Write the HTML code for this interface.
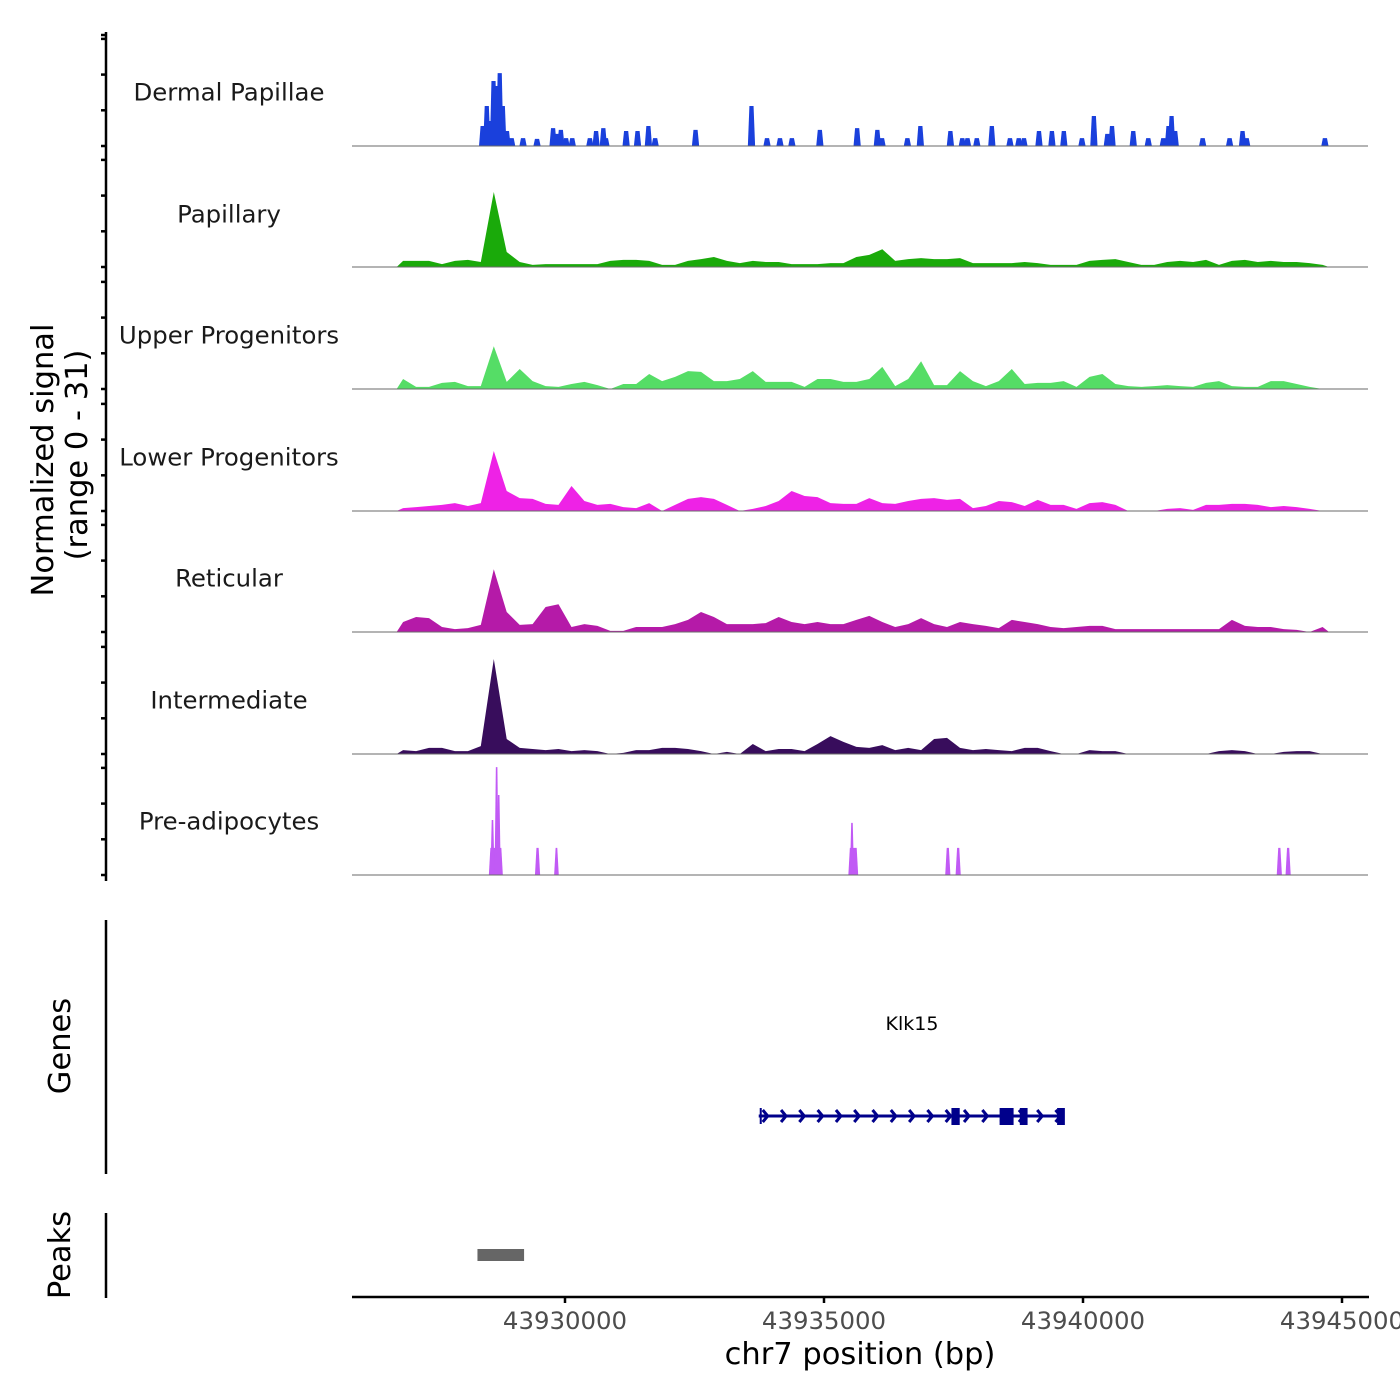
<!DOCTYPE html>
<html><head><meta charset="utf-8"><style>
html,body{margin:0;padding:0;background:#fff;}
svg{display:block;font-family:"DejaVu Sans","Liberation Sans",sans-serif;}
</style></head><body>
<svg id="chart" width="1400" height="1400" viewBox="0 0 1400 1400">
<g id="tracks"></g>
<g id="axes"></g>
<text x="0" y="0" transform="translate(53,460) rotate(-90)" text-anchor="middle" font-size="30.5" fill="#000">Normalized signal</text>
<text x="0" y="0" transform="translate(87,455) rotate(-90)" text-anchor="middle" font-size="30.5" fill="#000">(range 0 - 31)</text>
<text x="0" y="0" transform="translate(70,1046) rotate(-90)" text-anchor="middle" font-size="30.5" fill="#000">Genes</text>
<text x="0" y="0" transform="translate(70,1255) rotate(-90)" text-anchor="middle" font-size="30.5" fill="#000">Peaks</text>
<text x="860" y="1364" text-anchor="middle" font-size="30.5" fill="#000">chr7 position (bp)</text>
</svg>
<script>
// ---- data ----
const trackNames = ["Dermal Papillae","Papillary","Upper Progenitors","Lower Progenitors","Reticular","Intermediate","Pre-adipocytes"];
const trackColors = ["#1a40dc","#1aaa0a","#55dd66","#ee22e6","#b51aa8","#380d5c","#c15af5"];
const xTicks = [43930000,43935000,43940000,43945000];
const xTickLabels = ["43930000","43935000","43940000","43945000"];
const binStartKb = 43926.75;
const binSizeKb = 0.25;
const papillaryVals = [1.7,1.7,1.7,0.8,1.7,2,1.4,21,4.2,1.4,0.6,0.8,0.8,0.8,0.8,0.8,1.7,2,2,1.7,0.6,0.6,1.7,2.2,2.8,1.7,1.1,1.7,1.4,1.4,0.8,0.8,0.8,1.1,1.1,2.8,3.4,5,1.7,2.2,2.5,2.2,2.2,2.5,1.1,1.1,1.1,1.1,1.4,1.1,0.6,0.6,0.6,1.7,2,2.2,1.4,0.6,0.6,1.4,1.7,1.4,2,0.6,1.7,2,1.4,1.7,1.4,1.4,1.1,0.6];
const upperVals = [2.8,0.6,0.6,1.7,2,0.8,0.8,12,2,5.6,2.2,0.8,0.6,1.4,2,1.1,0,1.4,1.4,4.2,2.2,3.4,5,4.8,2.2,2.2,2.8,5,2,2,2,0.6,2.8,2.8,2,2,2.8,6.2,0.8,2.8,7.8,1.1,1.1,5,2.2,0.8,2.2,5.6,1.4,1.7,1.7,2.2,0.6,3.4,4.2,1.4,0.8,0.6,0.8,1.1,0.8,0.6,1.7,2.2,0.8,0.6,0.6,2.2,2.2,1.4,0.6,0];
const lowerVals = [0.8,1.1,1.4,1.7,2.2,1.4,2.2,16.8,5.6,3.6,3.4,2,1.7,7,2.8,1.7,2,1.1,0.8,2.2,0,1.7,3.4,3.9,3.4,1.7,0,0.6,1.4,2.8,5.6,4.2,3.9,2.2,2,2,3.6,2.2,2,2.8,3.4,3.6,3.1,3.4,0.8,1.4,2.8,2.5,1.4,3.1,1.7,1.7,0.6,2.2,2.5,1.7,0,0,0,0.6,0.8,0.3,1.7,1.7,2,2,1.7,1.1,1.4,1.1,0.6,0];
const reticularVals = [2.8,4.2,3.9,1.4,0.8,1.1,2,17.6,5.6,2,2.2,7,7.8,1.4,2.2,1.7,0.3,0.3,1.4,1.4,1.4,2.2,3.4,5.6,4.2,2.2,2.2,2.2,2.5,4.2,2.8,2.2,2.8,2.2,2.2,3.4,4.5,2.8,1.4,2.2,3.9,2.2,1.4,2.8,2.2,1.7,1.1,3.4,2.8,2.2,1.4,1.1,1.4,1.7,1.7,0.8,0.8,0.8,0.8,0.8,0.8,0.8,0.8,0.8,3.4,1.7,1.4,1.4,0.8,0.6,0,1.4];
const intermediateVals = [1.1,0.8,1.7,1.7,0.8,0.8,2.2,26.6,4.2,1.7,1.4,1.1,1.4,0.8,1.1,0.8,0,0.3,1.1,1.1,1.7,1.7,1.4,0.8,0,0.6,0,2.8,0.8,1.4,1.4,0.8,2.8,5,3.4,2,1.7,2.5,1.1,1.7,1.1,4.2,4.5,1.7,1.1,1.4,1.1,0.8,1.7,1.7,0.8,0,0,1.1,0.8,0.8,0,0,0,0,0,0,0,0.8,1.1,0.8,0,0,0.6,0.8,0.8,0];
const dermalPosKb = [43928.41,43928.49,43928.55,43928.62,43928.68,43928.74,43928.80,43928.88,43928.97,43929.19,43929.46,43929.77,43929.84,43929.92,43930.02,43930.14,43930.48,43930.60,43930.74,43930.79,43931.18,43931.40,43931.61,43931.74,43932.52,43933.60,43933.90,43934.15,43934.38,43934.92,43935.64,43936.03,43936.12,43936.61,43936.86,43937.44,43937.67,43937.77,43937.95,43938.24,43938.59,43938.76,43938.86,43939.15,43939.40,43939.63,43939.98,43940.21,43940.47,43940.56,43940.97,43941.26,43941.55,43941.65,43941.71,43941.78,43942.31,43942.83,43943.08,43943.16,43944.67];
const dermalVals = [5.6,11.2,7,18.2,16.8,20.4,11.2,4.2,2.2,2.2,2,5,3.4,4.5,2.2,2.2,2.2,4.2,5,2.2,4.2,4.2,5.6,2.2,4.5,11.2,2.2,2.2,2.2,4.5,5,4.5,2.2,2.2,5.6,4.2,2.2,2.2,2.2,5.6,2.2,2.2,2.2,4.2,4.2,4.2,2.2,8.4,3.4,5.6,4.2,2.2,2.2,5.6,8.4,4.2,2.2,2.2,4.2,2.2,2.2];
const preStartKb = [43928.53,43929.42,43929.79,43935.47,43937.34,43937.54,43943.74,43943.91];
const preEndKb = [43928.80,43929.52,43929.88,43935.66,43937.44,43937.64,43943.84,43944.01];
const preVals = [7.6,7.6,7.6,7.6,7.6,7.6,7.6,7.6];
const preSpikePosKb = [43928.60,43928.68,43928.72,43935.54];
const preSpikeVals = [15.4,30.2,22.4,14.6];
const geneName = "Klk15";
const geneStartKb = 43933.74, geneEndKb = 43939.63;
const exonStartKb = [43937.46,43938.39,43938.78,43939.50];
const exonEndKb = [43937.62,43938.66,43938.93,43939.65];
const peakStartKb = [43928.31];
const peakEndKb = [43929.21];

// ---- scales ----
const NS='http://www.w3.org/2000/svg';
const baselines=[146,267,389,511,632,754,875];
const labelY=[92,214,335,457,578,700,821];
const PX_PER_UNIT=3.57;
function xKb(kb){return 565+(kb-43930)*51.8;}
function xBp(bp){return xKb(bp/1000);}
function yv(t,v){return baselines[t]-v*PX_PER_UNIT;}
function mk(tag,attrs,parent){const e=document.createElementNS(NS,tag);for(const k in attrs)e.setAttribute(k,attrs[k]);parent.appendChild(e);return e;}
const G=document.getElementById('tracks');
const A=document.getElementById('axes');

function areaPath(t,vals){
  let d='M'+xKb(binStartKb)+','+baselines[t];
  vals.forEach((v,i)=>{d+=' L'+xKb(binStartKb+(i+0.5)*binSizeKb).toFixed(1)+','+yv(t,v).toFixed(1);});
  d+=' L'+xKb(binStartKb+vals.length*binSizeKb)+','+baselines[t]+' Z';
  return d;
}

trackNames.forEach((n,t)=>{
  const tx=mk('text',{x:229,y:labelY[t]+8.5,'text-anchor':'middle','font-size':24.4,fill:'#1a1a1a'},G);
  tx.textContent=n;
  
  
});

dermalPosKb.forEach((p,i)=>{
  const b=baselines[0],top=yv(0,dermalVals[i]);
  const pg=mk('polygon',{points:`${xKb(p-0.07)},${b} ${xKb(p-0.04)},${top} ${xKb(p+0.04)},${top} ${xKb(p+0.07)},${b}`,fill:trackColors[0]},G);
  
  
});
[[1,papillaryVals],[2,upperVals],[3,lowerVals],[4,reticularVals],[5,intermediateVals]].forEach(([t,vals])=>{
  const p=mk('path',{d:areaPath(t,vals),fill:trackColors[t]},G);
  
  
});
preStartKb.forEach((s,i)=>{
  const b=baselines[6],top=yv(6,preVals[i]);
  const pg=mk('polygon',{points:`${xKb(s)},${b} ${xKb(s)+1.5},${top} ${xKb(preEndKb[i])-1.5},${top} ${xKb(preEndKb[i])},${b}`,fill:trackColors[6]},G);
  
  
});
preSpikePosKb.forEach((p,i)=>{
  const b=baselines[6],top=yv(6,preSpikeVals[i]);
  const pg=mk('polygon',{points:`${xKb(p-0.04)},${b} ${xKb(p-0.015)},${top} ${xKb(p+0.015)},${top} ${xKb(p+0.04)},${b}`,fill:trackColors[6]},G);
  
  
});
baselines.forEach((b,t)=>{
  const l=mk('line',{x1:352,x2:1368,y1:b,y2:b,stroke:'#6a6a6a','stroke-width':1},G);
  
  
});

const la=mk('line',{x1:106,x2:106,y1:32,y2:881,stroke:'#000','stroke-width':2.5},A);


mk('line',{x1:101,x2:106,y1:35,y2:35,stroke:'#000','stroke-width':2.5},A);
baselines.forEach((b,t)=>{
  [0,10,20,30].forEach(v=>{
    const tk=mk('line',{x1:101,x2:106,y1:yv(t,v),y2:yv(t,v),stroke:'#000','stroke-width':2.5},A);
    
    
  });
});
const ga=mk('line',{x1:106,x2:106,y1:920,y2:1174,stroke:'#000','stroke-width':2.5},A);


const pa=mk('line',{x1:106,x2:106,y1:1213,y2:1298,stroke:'#000','stroke-width':2.5},A);



const gc='#00008b';
const gl=mk('line',{x1:xKb(geneStartKb),x2:xKb(geneEndKb),y1:1116,y2:1116,stroke:gc,'stroke-width':3},A);


mk('line',{x1:xKb(geneStartKb)+2,x2:xKb(geneStartKb)+2,y1:1108,y2:1124,stroke:gc,'stroke-width':2},A);
for(let x=xKb(geneStartKb)+4;x<xKb(geneEndKb)-4;x+=18.3){
  const ar=mk('polyline',{points:`${x},1110 ${x+5},1116 ${x},1122`,fill:'none',stroke:gc,'stroke-width':3},A);
  
  
}
exonStartKb.forEach((s,i)=>{
  const r=mk('rect',{x:xKb(s),y:1108,width:xKb(exonEndKb[i])-xKb(s),height:17,fill:gc},A);
  
  
});
const gt=mk('text',{x:912,y:1030,'text-anchor':'middle','font-size':19,fill:'#000'},A);
gt.textContent=geneName;



peakStartKb.forEach((s,i)=>{
  const r=mk('rect',{x:xKb(s),y:1249,width:xKb(peakEndKb[i])-xKb(s),height:12,fill:'#666'},A);
  
  
});

const xa=mk('line',{x1:352,x2:1369,y1:1297,y2:1297,stroke:'#000','stroke-width':2.5},A);


xTicks.forEach((bp,i)=>{
  const x=xBp(bp);
  const tk=mk('line',{x1:x,x2:x,y1:1297,y2:1303,stroke:'#000','stroke-width':2.5},A);
  
  
  const lb=mk('text',{x:x,y:1329,'text-anchor':'middle','font-size':24.4,fill:'#4d4d4d'},A);
  lb.textContent=xTickLabels[i];
  
  
});
</script>
</body></html>
